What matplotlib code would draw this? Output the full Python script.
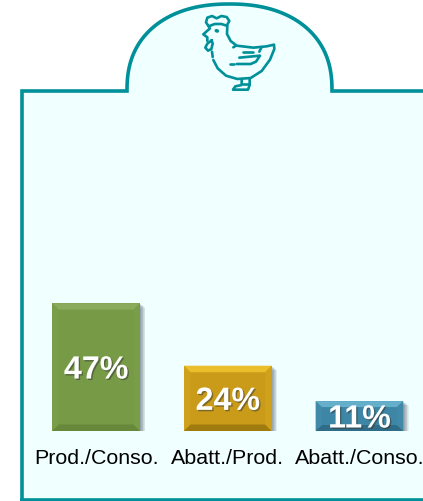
import numpy as np
import matplotlib
matplotlib.use("Agg")
import matplotlib.pyplot as plt
import matplotlib.patheffects as pe
from matplotlib.patches import Polygon, Rectangle

plt.rcParams['font.family'] = ['Liberation Sans', 'DejaVu Sans']

#data
categories = ['Prod./Conso.', 'Abatt./Prod.', 'Abatt./Conso.']
values = [47, 24, 11]
labels = ['47%', '24%', '11%']
face_colors = ['#769A45', '#C99B19', '#3E86A6']
top_colors = ['#8BAA5C', '#EBBE2C', '#66AFCB']
bottom_colors = ['#67883A', '#A07C10', '#2F6C87']
side_colors = ['#7A9D4A', '#CFA11C', '#4089A9']

TEAL = '#009099'
PANEL = '#F0FFFF'
W, H = 423, 502

fig = plt.figure(figsize=(W / 100, H / 100), dpi=100, facecolor='white')

#background axes in pixel coordinates, for the panel and the icon
bg = fig.add_axes([0, 0, 1, 1])
bg.set_xlim(0, W)
bg.set_ylim(H, 0)
bg.axis('off')

#panel outline with the arch on top
t = np.linspace(np.pi, 0, 80)
arch_x = 229.5 + 102.5 * np.sign(np.cos(t)) * np.abs(np.cos(t)) ** 0.9
arch_y = 92 - 87 * np.sin(t) ** 0.85
xs = [22, 22] + list(arch_x) + [W + 5, W + 5]
ys = [501, 92] + list(arch_y) + [92, 501]
bg.fill(xs, ys, color=PANEL, lw=0)
bg.plot(xs + [22], ys + [501], color=TEAL, lw=2.6, solid_joinstyle='miter')


#chicken icon, traced in the coordinates of a 3x crop
def icon_line(points, lw=1.9):
    pts = np.array(points, dtype=float)
    bg.plot(120 + pts[:, 0] / 3, pts[:, 1] / 3, color=TEAL, lw=lw,
            solid_capstyle='round', solid_joinstyle='round')


icon_line([(266, 82), (258, 70), (262, 56), (276, 51), (290, 58), (304, 51),
           (320, 54), (328, 66), (320, 80), (304, 75), (284, 75), (266, 82)])
icon_line([(322, 80), (321, 105), (332, 126), (350, 140), (400, 146), (440, 142),
           (462, 137), (463, 150), (450, 182), (425, 216), (392, 237), (352, 240),
           (318, 230), (293, 208), (280, 183)])
icon_line([(270, 88), (260, 97), (250, 106), (262, 115), (262, 126)])
icon_line([(275, 124), (262, 134), (256, 146), (264, 155), (274, 150), (278, 134), (275, 124)])
icon_line([(276, 158), (278, 174)])
icon_line([(289, 95), (292, 96)], lw=2.6)
icon_line([(368, 158), (398, 158)])
icon_line([(348, 140), (340, 145)])
icon_line([(418, 158), (425, 144)])
icon_line([(358, 176), (420, 170), (408, 188), (392, 195), (350, 195)])
icon_line([(330, 195), (342, 195)])
icon_line([(365, 240), (365, 258), (346, 262), (339, 272), (384, 272), (389, 258), (389, 238)])
icon_line([(368, 256), (386, 256)])

#bar axes, baseline at y=432 px and 2.72 px per percent
ax = fig.add_axes([0, (H - 432) / H, 1, 272 / H])
ax.patch.set_alpha(0)
ax.set_xlim(-0.73, 2.483)
ax.set_ylim(0, 100)
ax.axis('off')
x = np.arange(len(values))
bars = ax.bar(x, values, width=0.665, color=face_colors, zorder=3)

px_x = W / (ax.get_xlim()[1] - ax.get_xlim()[0])
px_y = 272 / 100
bevel = 6.5

for i, bar in enumerate(bars):
    x0, y0 = bar.get_x(), bar.get_y()
    x1, y1 = x0 + bar.get_width(), y0 + bar.get_height()
    dx, dy = bevel / px_x, min(bevel, 0.2 * bar.get_height() * px_y) / px_y

    #soft shadow right and below
    for k in range(1, 9):
        ax.add_patch(Rectangle((x0 + k * 0.7 / px_x, y0 - k * 0.55 / px_y), bar.get_width(),
                               bar.get_height(), color='#455560', alpha=0.09, lw=0, zorder=2))

    ax.add_patch(Polygon([(x0, y0), (x0, y1), (x0 + dx, y1 - dy), (x0 + dx, y0 + dy)],
                         color=side_colors[i], lw=0, zorder=4))
    ax.add_patch(Polygon([(x1, y0), (x1, y1), (x1 - dx, y1 - dy), (x1 - dx, y0 + dy)],
                         color=side_colors[i], lw=0, zorder=4))
    ax.add_patch(Polygon([(x0, y1), (x1, y1), (x1 - dx, y1 - dy), (x0 + dx, y1 - dy)],
                         color=top_colors[i], lw=0, zorder=4))
    ax.add_patch(Polygon([(x0, y0), (x1, y0), (x1 - dx, y0 + dy), (x0 + dx, y0 + dy)],
                         color=bottom_colors[i], lw=0, zorder=4))

    ax.text(x[i], y1 / 2, labels[i], ha='center', va='center_baseline', color='white',
            fontsize=23.2, fontweight='bold', zorder=6,
            path_effects=[pe.withSimplePatchShadow(offset=(1, -1), shadow_rgbFace='#333333', alpha=0.5)])
    ax.annotate(categories[i], (x[i], 0), xytext=(0, -12.5), textcoords='offset points',
                ha='center', va='top', fontsize=15.4, color='black', annotation_clip=False)

fig.savefig('out.png', dpi=100)
